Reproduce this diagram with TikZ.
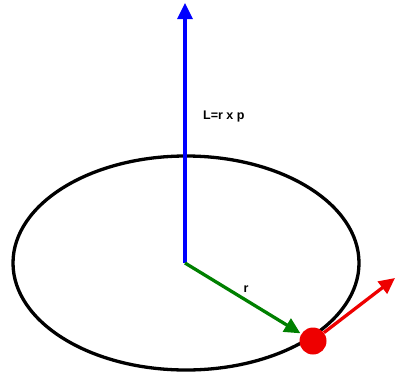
\documentclass[tikz,border=0pt]{standalone}
\usepackage{fontspec}
\setmainfont{Liberation Sans}
\usetikzlibrary{arrows.meta}
\definecolor{vblue}{RGB}{0,0,255}
\definecolor{vgreen}{RGB}{0,128,0}
\definecolor{vred}{RGB}{238,0,0}
\tikzset{
  vec/.style={line width=3.3pt, -{Triangle[length=16pt,width=15pt]}},
  lbl/.style={font=\fontsize{12.5}{14}\selectfont\bfseries, inner sep=0pt}
}
\begin{document}
\begin{tikzpicture}[x=1pt,y=-1pt]
\useasboundingbox (0,0) rectangle (401,375);
% orbit
\draw[line width=3.3pt] (186,263) ellipse [x radius=173, y radius=107];
% points
\coordinate (o) at (185,263);
\coordinate (ltip) at (185,3);
\node[circle, fill=vred, minimum size=27pt, inner sep=0pt] (m) at (313,341) {};
\coordinate (ptip) at (395,278);
% vectors
\draw[vec, vblue] (o) -- (ltip);
\draw[vec, vgreen, shorten >=1pt] (o) -- (m);
\draw[vec, vred] (m) -- (ptip);
% labels
\node[lbl, anchor=west] (L) at (203,116) {L=r x p};
\node[lbl] (r) at (246,289) {r};
\end{tikzpicture}
\end{document}
